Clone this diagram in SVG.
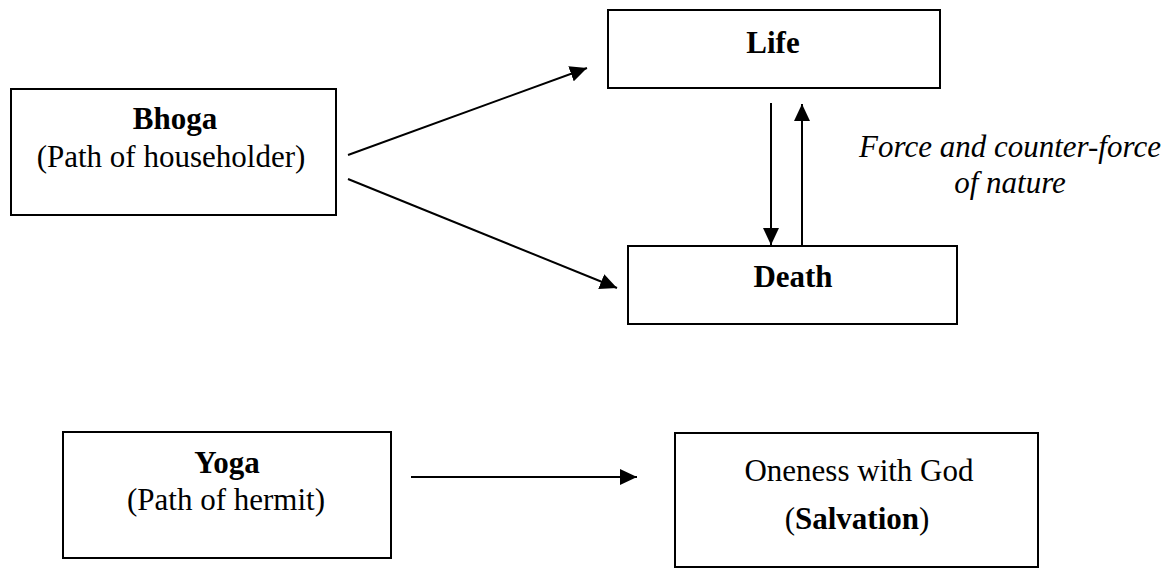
<svg xmlns="http://www.w3.org/2000/svg" width="1171" height="573" viewBox="0 0 1171 573">
  <style>
    .box { fill: #ffffff; stroke: #000000; stroke-width: 2; }
    .txt { font-family: "Liberation Serif", "Times New Roman", serif; font-size: 31px; fill: #000000; text-anchor: middle; }
    .b { font-weight: bold; }
    .i { font-style: italic; }
    .link { stroke: #000000; stroke-width: 2; fill: none; marker-end: url(#arrow); }
  </style>
  <defs>
    <marker id="arrow" markerUnits="userSpaceOnUse" markerWidth="18" markerHeight="16" viewBox="0 0 18 16" refX="17" refY="8" orient="auto">
      <path d="M0,0 L17,8 L0,16 Z" fill="#000000"/>
    </marker>
  </defs>

  <rect width="1171" height="573" fill="#ffffff"/>

  <!-- connectors -->
  <g id="connectors">
    <line class="link" x1="348" y1="155" x2="587" y2="68"/>
    <line class="link" x1="348" y1="179" x2="617" y2="288"/>
    <line class="link" x1="771" y1="103" x2="771" y2="245"/>
    <line class="link" x1="802" y1="246" x2="802" y2="104"/>
    <line class="link" x1="411" y1="477" x2="637" y2="477"/>
  </g>

  <!-- Bhoga -->
  <g id="bhoga">
    <rect class="box" x="11" y="89" width="325" height="126"/>
    <text class="txt b" x="175" y="129">Bhoga</text>
    <text class="txt" x="171" y="167">(Path of householder)</text>
  </g>

  <!-- Life -->
  <g id="life">
    <rect class="box" x="608" y="10" width="332" height="78"/>
    <text class="txt b" x="773" y="53">Life</text>
  </g>

  <!-- Death -->
  <g id="death">
    <rect class="box" x="628" y="246" width="329" height="78"/>
    <text class="txt b" x="793" y="287">Death</text>
  </g>

  <!-- cycle label -->
  <g id="cycle-label">
    <text class="txt i" x="1010" y="157">Force and counter-force</text>
    <text class="txt i" x="1010" y="193">of nature</text>
  </g>

  <!-- Yoga -->
  <g id="yoga">
    <rect class="box" x="63" y="432" width="328" height="126"/>
    <text class="txt b" x="227" y="473">Yoga</text>
    <text class="txt" x="226" y="510">(Path of hermit)</text>
  </g>

  <!-- Salvation -->
  <g id="salvation">
    <rect class="box" x="675" y="433" width="363" height="134"/>
    <text class="txt" x="859" y="481">Oneness with God</text>
    <text class="txt" x="857" y="529">(<tspan class="b">Salvation</tspan>)</text>
  </g>
</svg>
